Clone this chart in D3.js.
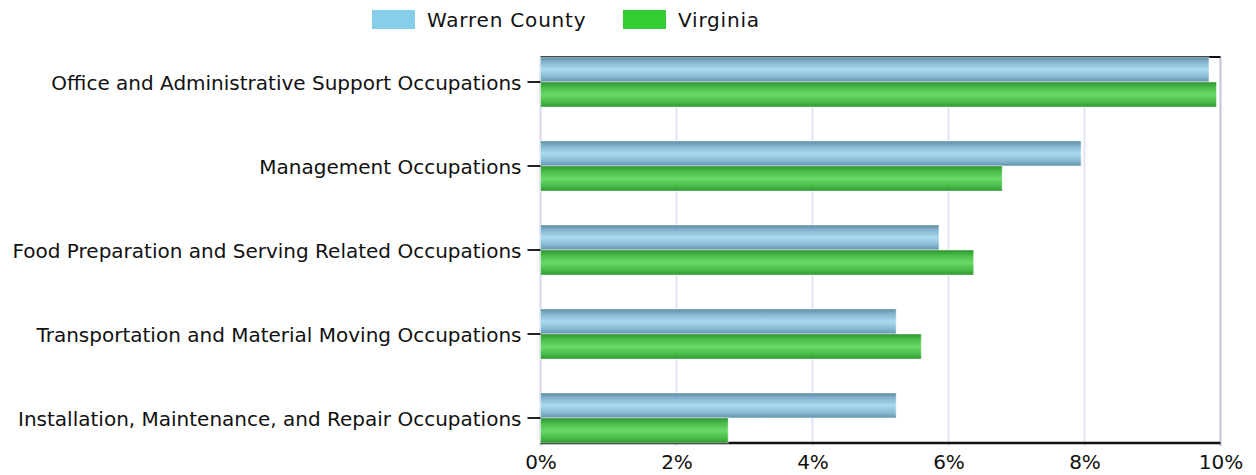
<!DOCTYPE html>
<html><head><meta charset="utf-8">
<script src="https://cdn.jsdelivr.net/npm/d3@7/dist/d3.min.js"></script>
<style>
body{margin:0;background:#fff;}
svg{display:block;font-family:"DejaVu Sans",Verdana,sans-serif;}
</style></head>
<body><svg id="c" width="1256" height="475"></svg>
<script>
const categories = [
  "Office and Administrative Support Occupations",
  "Management Occupations",
  "Food Preparation and Serving Related Occupations",
  "Transportation and Material Moving Occupations",
  "Installation, Maintenance, and Repair Occupations"
];
const seriesNames = ["Warren County", "Virginia"];
const warrenValues = [9.83, 7.95, 5.86, 5.23, 5.23];
const virginiaValues = [9.94, 6.79, 6.37, 5.60, 2.76];
const xTicks = [0, 2, 4, 6, 8, 10];

const svg = d3.select("#c");
const pLeft = 540.5, pRight = 1220.5, pTop = 57, pBottom = 443;

const x = d3.scaleLinear().domain([0, 10]).range([pLeft, pRight]);
const y = d3.scaleBand().domain(categories).range([pTop, pBottom]).paddingInner(34/84).paddingOuter(0);
const sub = d3.scaleBand().domain(seriesNames).range([0, y.bandwidth()]);

const defs = svg.append("defs");
function grad(id, stops){
  const g = defs.append("linearGradient").attr("id", id).attr("x1",0).attr("y1",0).attr("x2",0).attr("y2",1);
  stops.forEach(s => g.append("stop").attr("offset", s[0]).attr("stop-color", s[1]));
}
grad("gW", [[0,"#5a89a3"],[0.2,"#84b5ce"],[0.5,"#a9daf1"],[0.8,"#86b8d1"],[1,"#6394ad"]]);
grad("gV", [[0,"#2b922b"],[0.2,"#47bb47"],[0.5,"#6ad86a"],[0.8,"#48bd48"],[1,"#2e962e"]]);

// gridlines
svg.append("g").selectAll("line").data(xTicks.slice(1, -1)).join("line")
  .attr("x1", d => x(d)).attr("x2", d => x(d)).attr("y1", pTop).attr("y2", pBottom + 3)
  .attr("stroke", "#e3e3f6").attr("stroke-width", 2);
// left and right borders
svg.append("line").attr("x1", x(0)).attr("x2", x(0)).attr("y1", pTop).attr("y2", pBottom + 3)
  .attr("stroke", "#d6d6ec").attr("stroke-width", 2);
svg.append("line").attr("x1", x(10)).attr("x2", x(10)).attr("y1", pTop).attr("y2", pBottom + 3)
  .attr("stroke", "#c4c4dc").attr("stroke-width", 2);
// top and bottom lines
svg.append("line").attr("x1", x(0)).attr("x2", x(10)).attr("y1", pTop).attr("y2", pTop)
  .attr("stroke", "#111").attr("stroke-width", 2);
svg.append("line").attr("x1", x(0)).attr("x2", x(10)).attr("y1", pBottom).attr("y2", pBottom)
  .attr("stroke", "#111").attr("stroke-width", 2.5);

// bars
const rows = categories.map((c, i) => ({c, vals: [warrenValues[i], virginiaValues[i]]}));
const gRow = svg.append("g").selectAll("g").data(rows).join("g")
  .attr("transform", d => `translate(0,${y(d.c)})`);
gRow.selectAll("rect").data(d => d.vals.map((v, j) => ({s: seriesNames[j], v, j}))).join("rect")
  .attr("x", x(0))
  .attr("y", d => sub(d.s))
  .attr("width", d => x(d.v) - x(0))
  .attr("height", sub.bandwidth())
  .attr("fill", d => d.j === 0 ? "url(#gW)" : "url(#gV)")
  .attr("stroke", "rgba(255,255,255,0.45)").attr("stroke-width", 1);

// x axis
const xAxis = svg.append("g").attr("transform", `translate(0,${pBottom})`)
  .call(d3.axisBottom(x).tickValues(xTicks).tickFormat(d => d + "%").tickSize(0).tickPadding(12));
xAxis.select(".domain").remove();
xAxis.selectAll("text").attr("font-size", 20).attr("fill", "#111").attr("font-family", '"DejaVu Sans",Verdana,sans-serif');

// y axis
const yAxis = svg.append("g").attr("transform", `translate(${x(0)},0)`)
  .call(d3.axisLeft(y).tickSize(13).tickPadding(6));
yAxis.select(".domain").remove();
yAxis.selectAll(".tick line").attr("stroke", "#222").attr("stroke-width", 2);
yAxis.selectAll("text").attr("font-size", 20).attr("dy", "0.42em").attr("fill", "#111").attr("font-family", '"DejaVu Sans",Verdana,sans-serif');

// legend
const legendX = [372, 623];
const lg = svg.append("g").selectAll("g").data(seriesNames).join("g")
  .attr("transform", (d, i) => `translate(${legendX[i]},10)`);
lg.append("rect").attr("width", 43).attr("height", 19)
  .attr("fill", (d, i) => i === 0 ? "#87ceeb" : "#32cd32");
lg.append("text").attr("x", 55).attr("y", 17).text(d => d)
  .attr("font-size", 20).attr("letter-spacing", 0.8).attr("fill", "#111");
</script></body></html>
